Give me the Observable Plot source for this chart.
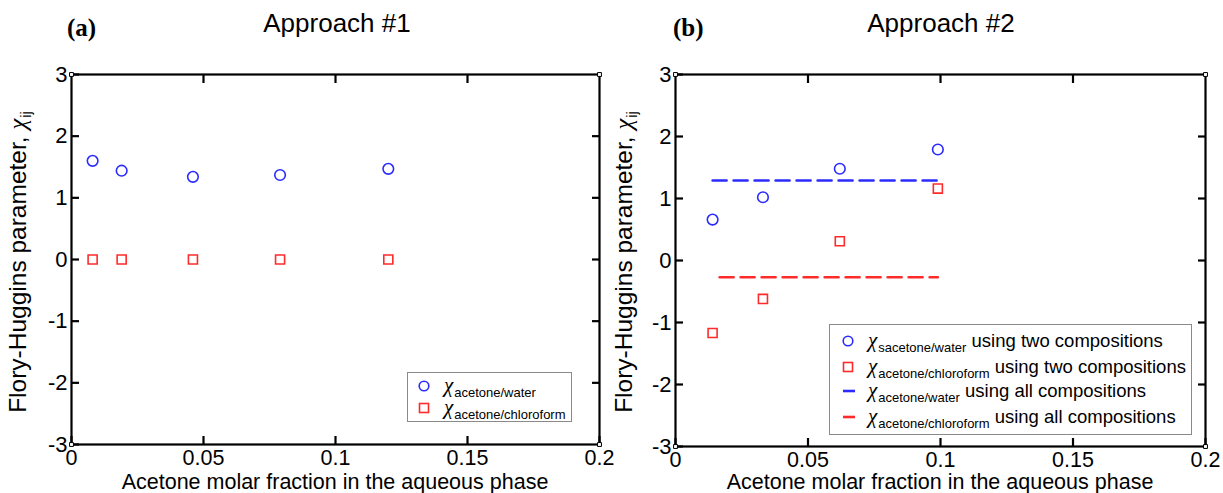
<!DOCTYPE html>
<html>
<head>
<meta charset="utf-8">
<script src="https://cdn.jsdelivr.net/npm/d3@7"></script>
<script src="https://cdn.jsdelivr.net/npm/@observablehq/plot@0.6"></script>
<style>
  html, body { margin: 0; padding: 0; background: #fff; }
  #fig { position: relative; width: 1223px; height: 493px; overflow: hidden;
         font-family: "Liberation Sans", Arial, Helvetica, sans-serif; color: #000; }
  .panel { position: absolute; top: 0; }
  .title { position: absolute; font-size: 26px; white-space: nowrap; transform: translate(-50%, -50%); }
  .tag { position: absolute; font-family: "Liberation Serif", "Times New Roman", serif; font-weight: bold;
         font-size: 25px; white-space: nowrap; transform: translate(0, -50%); }
  .xlab { position: absolute; font-size: 21.5px; line-height: 16px; white-space: nowrap; transform: translate(-50%, -50%); }
  .ylab { position: absolute; font-size: 24.5px; line-height: 26px; white-space: nowrap; transform: translate(-50%, -50%) rotate(-90deg); }
  .ylab sub { font-size: 15px; vertical-align: -5px; }
  .chi { font-family: "Liberation Serif", "Times New Roman", serif; font-style: italic; margin-right: 1px; }
  .legend { position: absolute; border: 1px solid #8a8a8a; background: #fff; box-sizing: border-box; }
  .legend .row { position: absolute; left: 0; height: 22px; line-height: 22px; white-space: nowrap; }
  .legend .row svg { position: absolute; top: 5px; }
  .legend .row .txt { position: absolute; top: 0; font-size: 18.5px; line-height: 22px; }
  .legend .chi { font-size: 21px; display: inline-block; height: 18px; line-height: 18px; }
  .legend sub { font-size: 13px; vertical-align: -5px; }
</style>
</head>
<body>
<div id="fig"></div>
<script>
// Axis ticks shared by both panels
const xTicks = [0, 0.05, 0.1, 0.15, 0.2];
const yTicks = [-3, -2, -1, 0, 1, 2, 3];

// Panel (a): Approach #1
const xA = [0.008, 0.019, 0.046, 0.079, 0.120];
const chiWaterA = [1.60, 1.44, 1.34, 1.37, 1.47];
const chiChloroA = [0, 0, 0, 0, 0];

// Panel (b): Approach #2
const xB = [0.014, 0.033, 0.062, 0.099];
const chiWaterB = [0.66, 1.02, 1.48, 1.79];
const chiChloroB = [-1.17, -0.62, 0.31, 1.16];
const chiWaterAll = 1.29;
const chiChloroAll = -0.27;

const BLUE = "#2b2bff";
const RED = "#ff2b2b";

const fig = document.getElementById("fig");

function framedAxes() {
  const inner = xTicks.slice(1, -1);
  const innerY = yTicks.slice(1, -1);
  const corners = [];
  for (const x of [xTicks[0], xTicks[xTicks.length - 1]])
    for (const y of [yTicks[0], yTicks[yTicks.length - 1]]) corners.push({x, y});
  return [
    Plot.frame({stroke: "#000", strokeWidth: 2.2}),
    Plot.axisX({anchor: "bottom", ticks: xTicks, tickSize: -8, tickPadding: 13, strokeWidth: 2.2,
                tickFormat: d => String(d), fontSize: 21.5, label: null}),
    Plot.axisX({anchor: "top", ticks: inner, tickSize: -8, strokeWidth: 2.2, tickFormat: () => "", label: null}),
    Plot.axisY({anchor: "left", ticks: yTicks, tickSize: -8, tickPadding: 12, strokeWidth: 2.2,
                tickFormat: d => String(d), fontSize: 22, label: null}),
    Plot.axisY({anchor: "right", ticks: innerY, tickSize: -8, strokeWidth: 2.2, tickFormat: () => "", label: null}),
    Plot.dot(corners, {x: "x", y: "y", symbol: "square", r: 2.2, fill: "#fff", stroke: "#000", strokeWidth: 1})
  ];
}

function panel({left, width, marginLeft, marginRight, marginBottom, marks}) {
  const svg = Plot.plot({
    width, height: 493,
    marginTop: 74, marginBottom, marginLeft, marginRight,
    style: {fontFamily: "Liberation Sans, Arial, Helvetica, sans-serif", fontSize: "22px",
            color: "#000", background: "transparent", overflow: "visible"},
    x: {domain: [xTicks[0], xTicks[xTicks.length - 1]]},
    y: {domain: [yTicks[0], yTicks[yTicks.length - 1]]},
    marks: [...marks, ...framedAxes()]
  });
  svg.classList.add("panel");
  svg.style.left = left + "px";
  fig.appendChild(svg);
  return svg;
}

const circle = (x, y, color) => Plot.dot(y, {x, y, symbol: "circle", r: 5.3, stroke: color, strokeWidth: 1.6, fill: "none"});
const square = (x, y, color) => Plot.dot(y, {x, y, symbol: "square", r: 5.1, stroke: color, strokeWidth: 1.6, fill: "none"});
const flat = (xs, v, color, offset) => Plot.line([xs[0], xs[xs.length - 1]], {
  x: d => d, y: () => v, stroke: color, strokeWidth: 2.6, strokeDasharray: "14,7", strokeDashoffset: offset
});

panel({
  left: 0, width: 610, marginLeft: 71, marginRight: 11, marginBottom: 49,
  marks: [circle(xA, chiWaterA, BLUE), square(xA, chiChloroA, RED)]
});

panel({
  left: 610, width: 613, marginLeft: 65, marginRight: 18, marginBottom: 47,
  marks: [
    flat(xB, chiWaterAll, BLUE, 0),
    flat(xB, chiChloroAll, RED, 14),
    circle(xB, chiWaterB, BLUE),
    square(xB, chiChloroB, RED)
  ]
});

// Text overlays: panel tags, titles, axis titles
function add(cls, html, x, y) {
  const el = document.createElement("div");
  el.className = cls;
  el.innerHTML = html;
  el.style.left = x + "px";
  el.style.top = y + "px";
  fig.appendChild(el);
  return el;
}
add("tag", "(a)", 67, 28);
add("tag", "(b)", 673, 28);
add("title", "Approach #1", 337, 23);
add("title", "Approach #2", 941, 23);
add("xlab", "Acetone molar fraction in the aqueous phase", 335, 482);
add("xlab", "Acetone molar fraction in the aqueous phase", 940, 482);
const yTitle = "Flory-Huggins parameter, <span class=\"chi\">χ</span><sub>ij</sub>";
add("ylab", yTitle, 22, 262);
add("ylab", yTitle, 628, 262);

// Legends
function markerSvg(kind, color) {
  if (kind === "circle")
    return `<svg width="12" height="12"><circle cx="6" cy="6" r="4.8" fill="none" stroke="${color}" stroke-width="1.6"/></svg>`;
  if (kind === "square")
    return `<svg width="12" height="12"><rect x="1.5" y="1.5" width="9" height="9" fill="none" stroke="${color}" stroke-width="1.6"/></svg>`;
  return `<svg width="14" height="12"><line x1="1" y1="6" x2="13" y2="6" stroke="${color}" stroke-width="2.6"/></svg>`;
}
function legend({left, top, width, height, markerX, textX, rows}) {
  const box = document.createElement("div");
  box.className = "legend";
  Object.assign(box.style, {left: left + "px", top: top + "px", width: width + "px", height: height + "px"});
  for (const r of rows) {
    const row = document.createElement("div");
    row.className = "row";
    row.style.top = (r.cy - 11) + "px";
    row.style.width = width + "px";
    const tail = r.tail ? " " + r.tail : "";
    row.innerHTML = markerSvg(r.kind, r.color).replace("<svg", `<svg style="left:${markerX - 6}px"`) +
      `<span class="txt" style="left:${textX}px"><span class="chi">χ</span><sub>${r.sub}</sub>${tail}</span>`;
    box.appendChild(row);
  }
  fig.appendChild(box);
}
legend({
  left: 407, top: 372, width: 165, height: 50, markerX: 16, textX: 36,
  rows: [
    {kind: "circle", color: BLUE, sub: "acetone/water", cy: 13},
    {kind: "square", color: RED, sub: "acetone/chloroform", cy: 35}
  ]
});
legend({
  left: 829, top: 324, width: 363, height: 111, markerX: 18, textX: 38,
  rows: [
    {kind: "circle", color: BLUE, sub: "sacetone/water", tail: "using two compositions", cy: 16},
    {kind: "square", color: RED, sub: "acetone/chloroform", tail: "using two compositions", cy: 42},
    {kind: "dash", color: BLUE, sub: "acetone/water", tail: "using all compositions", cy: 66},
    {kind: "dash", color: RED, sub: "acetone/chloroform", tail: "using all compositions", cy: 92}
  ]
});
</script>
</body>
</html>
